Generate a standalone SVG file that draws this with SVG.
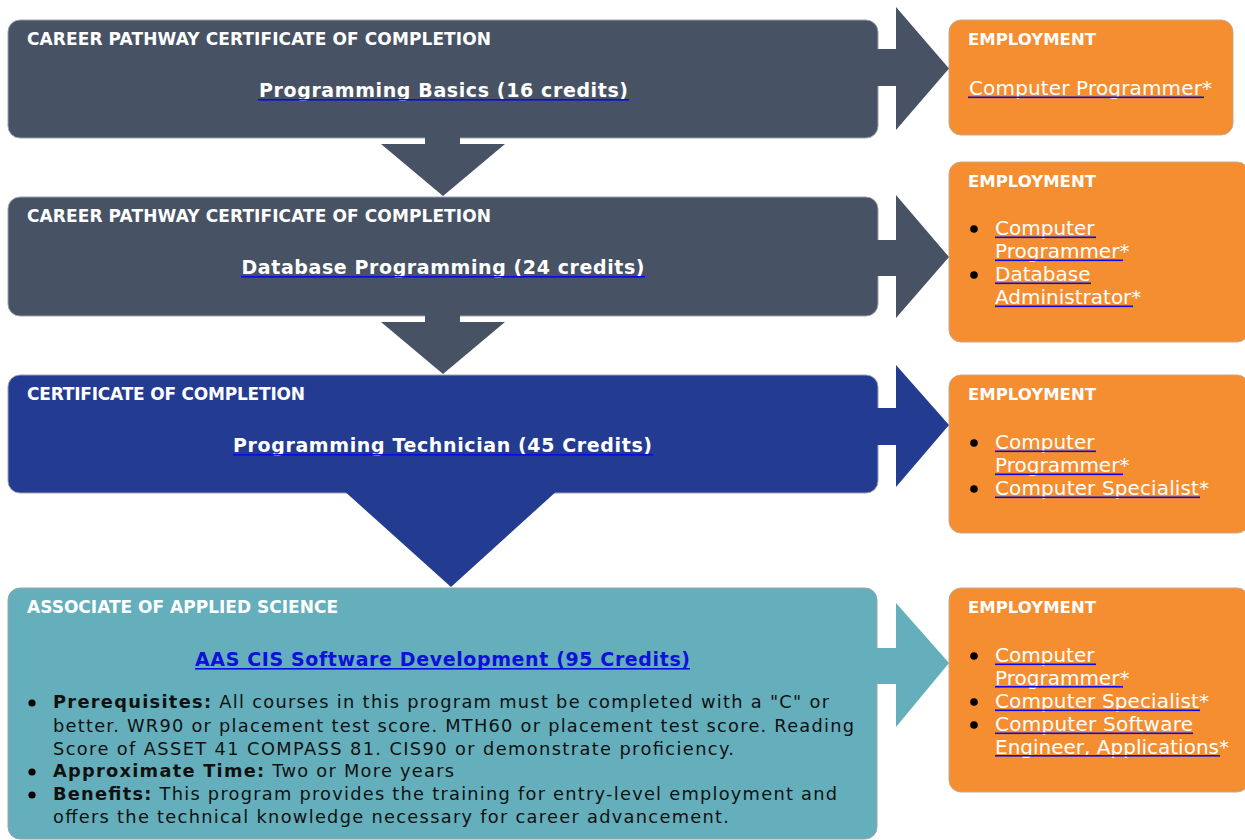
<svg xmlns="http://www.w3.org/2000/svg" width="1245" height="840" viewBox="0 0 1245 840">
<style>
.hd{font-family:"DejaVu Sans","Liberation Sans",sans-serif;font-weight:bold;font-size:17px;fill:#fff}
.emp{font-family:"DejaVu Sans","Liberation Sans",sans-serif;font-weight:bold;font-size:16.5px;fill:#fff}
.ttl{font-family:"DejaVu Sans","Liberation Sans",sans-serif;font-weight:bold;font-size:19px;fill:#fff;text-anchor:middle}
.job{font-family:"DejaVu Sans","Liberation Sans",sans-serif;font-size:20px;fill:#fff}
.body{font-family:"DejaVu Sans","Liberation Sans",sans-serif;font-size:17.8px;fill:#111}
.b{font-weight:bold}
.ul{fill:#0a0ae6}
.dark{fill:#475364}
.blue{fill:#233b91}
.teal{fill:#64afbb}
.org{fill:#f58e31;stroke:#c9a88a;stroke-width:1}
.box{stroke:#9aa3ab;stroke-width:1}
.dot{fill:#000}
</style>

<g id="node-basics">
  <rect class="dark box" x="8" y="20" width="870" height="118" rx="12"/>
  <text class="hd" x="27" y="45" textLength="464">CAREER PATHWAY CERTIFICATE OF COMPLETION</text>
  <text class="ttl" x="443.5" y="97" textLength="369">Programming Basics (16 credits)</text>
  <rect class="ul" x="258" y="99" width="371" height="1.6"/>
</g>

<g id="node-database">
  <rect class="dark box" x="8" y="197" width="870" height="119" rx="12"/>
  <text class="hd" x="27" y="222" textLength="464">CAREER PATHWAY CERTIFICATE OF COMPLETION</text>
  <text class="ttl" x="443" y="274" textLength="403">Database Programming (24 credits)</text>
  <rect class="ul" x="241" y="276" width="404" height="1.6"/>
</g>

<g id="node-technician">
  <rect class="blue box" x="8" y="375" width="870" height="118" rx="12"/>
  <text class="hd" x="27" y="400" textLength="278">CERTIFICATE OF COMPLETION</text>
  <text class="ttl" x="442.5" y="452" textLength="419">Programming Technician (45 Credits)</text>
  <rect class="ul" x="233" y="454" width="420" height="1.6"/>
</g>

<g id="node-aas">
  <rect class="teal box" x="8" y="588" width="869" height="251" rx="12"/>
  <text class="hd" x="27" y="613" textLength="311">ASSOCIATE OF APPLIED SCIENCE</text>
  <text class="ttl" x="442.5" y="666" textLength="495" style="fill:#0f10d8">AAS CIS Software Development (95 Credits)</text>
  <rect class="ul" x="195" y="668" width="495" height="1.6"/>
  <circle class="dot" cx="32" cy="703" r="3.6"/>
  <text class="body" x="53" y="708" textLength="776"><tspan class="b">Prerequisites:</tspan> All courses in this program must be completed with a "C" or</text>
  <text class="body" x="53" y="731.5" textLength="801">better. WR90 or placement test score. MTH60 or placement test score. Reading</text>
  <text class="body" x="53" y="755" textLength="681">Score of ASSET 41 COMPASS 81. CIS90 or demonstrate proficiency.</text>
  <circle class="dot" cx="32" cy="772" r="3.6"/>
  <text class="body" x="53" y="777" textLength="401"><tspan class="b">Approximate Time:</tspan> Two or More years</text>
  <circle class="dot" cx="32" cy="795" r="3.6"/>
  <text class="body" x="53" y="800" textLength="784"><tspan class="b">Benefits:</tspan> This program provides the training for entry-level employment and</text>
  <text class="body" x="53" y="823" textLength="676">offers the technical knowledge necessary for career advancement.</text>
</g>

<g id="employment-1">
  <rect class="org" x="949" y="20" width="284" height="115" rx="12"/>
  <text class="emp" x="968" y="45" textLength="128">EMPLOYMENT</text>
  <text class="job" x="969" y="95" textLength="243">Computer Programmer*</text>
  <rect class="ul" x="968" y="96.5" width="236" height="1.6"/>
</g>

<g id="employment-2">
  <rect class="org" x="949" y="162" width="300" height="180" rx="12"/>
  <text class="emp" x="968" y="187" textLength="128">EMPLOYMENT</text>
  <circle class="dot" cx="974" cy="229" r="3.8"/>
  <text class="job" x="995" y="235">Computer</text>
  <rect class="ul" x="995" y="236.5" width="101" height="1.6"/>
  <text class="job" x="995" y="258">Programmer*</text>
  <rect class="ul" x="995" y="259.5" width="128" height="1.6"/>
  <circle class="dot" cx="974" cy="275" r="3.8"/>
  <text class="job" x="995" y="281">Database</text>
  <rect class="ul" x="995" y="282.5" width="96" height="1.6"/>
  <text class="job" x="995" y="304">Administrator*</text>
  <rect class="ul" x="995" y="305.5" width="138" height="1.6"/>
</g>

<g id="employment-3">
  <rect class="org" x="949" y="375" width="300" height="158" rx="12"/>
  <text class="emp" x="968" y="400" textLength="128">EMPLOYMENT</text>
  <circle class="dot" cx="974" cy="443" r="3.8"/>
  <text class="job" x="995" y="449">Computer</text>
  <rect class="ul" x="995" y="450.5" width="101" height="1.6"/>
  <text class="job" x="995" y="472">Programmer*</text>
  <rect class="ul" x="995" y="473.5" width="128" height="1.6"/>
  <circle class="dot" cx="974" cy="489" r="3.8"/>
  <text class="job" x="995" y="495" textLength="214">Computer Specialist*</text>
  <rect class="ul" x="995" y="496.5" width="205" height="1.6"/>
</g>

<g id="employment-4">
  <rect class="org" x="949" y="588" width="300" height="204" rx="12"/>
  <text class="emp" x="968" y="613" textLength="128">EMPLOYMENT</text>
  <circle class="dot" cx="974" cy="656" r="3.8"/>
  <text class="job" x="995" y="662">Computer</text>
  <rect class="ul" x="995" y="663.5" width="101" height="1.6"/>
  <text class="job" x="995" y="684.5">Programmer*</text>
  <rect class="ul" x="995" y="686" width="128" height="1.6"/>
  <circle class="dot" cx="974" cy="702" r="3.8"/>
  <text class="job" x="995" y="708" textLength="214">Computer Specialist*</text>
  <rect class="ul" x="995" y="709.5" width="205" height="1.6"/>
  <circle class="dot" cx="974" cy="725" r="3.8"/>
  <text class="job" x="995" y="731" textLength="198">Computer Software</text>
  <rect class="ul" x="995" y="732.5" width="198" height="1.6"/>
  <text class="job" x="995" y="753.5" textLength="234">Engineer, Applications*</text>
  <rect class="ul" x="995" y="755" width="225" height="1.6"/>
</g>

<g id="connectors">
  <rect class="dark" x="866" y="49" width="32" height="37"/>
  <polygon class="dark" points="896,7 949,68.5 896,130"/>
  <rect class="dark" x="866" y="240" width="32" height="36"/>
  <polygon class="dark" points="896,195 949,257 896,318"/>
  <rect class="blue" x="866" y="408" width="32" height="37"/>
  <polygon class="blue" points="896,365 949,425 896,487"/>
  <rect class="teal" x="866" y="648" width="32" height="36"/>
  <polygon class="teal" points="896,603 949,663 896,727"/>
  <rect class="dark" x="425" y="130" width="35" height="16"/>
  <polygon class="dark" points="381,144 505,144 443,196"/>
  <rect class="dark" x="425" y="308" width="35" height="16"/>
  <polygon class="dark" points="381,322 505,322 443,374"/>
  <polygon class="blue" points="342,489 559,489 451,587"/>
</g>
</svg>
